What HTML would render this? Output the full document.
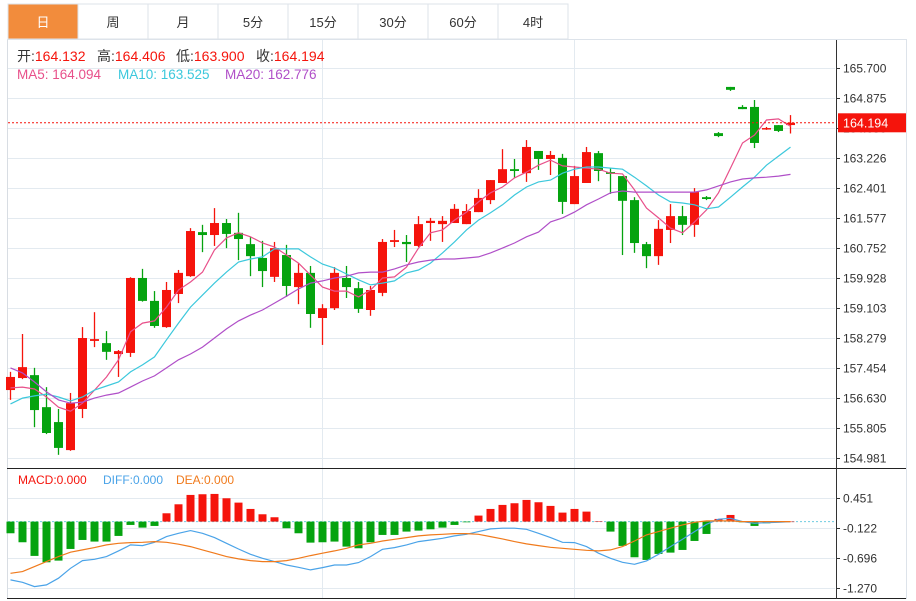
<!DOCTYPE html>
<html><head><meta charset="utf-8">
<style>
html,body{margin:0;padding:0;background:#fff;width:916px;height:601px;overflow:hidden}
svg{display:block;font-family:"Liberation Sans","Noto Sans CJK SC",sans-serif}
</style></head>
<body>
<svg id="chart" width="916" height="601" viewBox="0 0 916 601" xmlns="http://www.w3.org/2000/svg">
  <g id="tabs"></g>
  <g id="grid"></g>
  <g id="candles"></g>
  <g id="malines"></g>
  <g id="macd"></g>
  <g id="axis"></g>
  <g font-size="14">
    <text x="17" y="61" fill="#333">开:<tspan fill="#f5140c">164.132</tspan></text>
    <text x="97" y="61" fill="#333">高:<tspan fill="#f5140c">164.406</tspan></text>
    <text x="176" y="61" fill="#333">低:<tspan fill="#f5140c">163.900</tspan></text>
    <text x="256" y="61" fill="#333">收:<tspan fill="#f5140c">164.194</tspan></text>
    <text x="17" y="79" fill="#e8508a" font-size="13.5">MA5: 164.094</text>
    <text x="118" y="79" fill="#3cc8dc" font-size="13.5">MA10: 163.525</text>
    <text x="225" y="79" fill="#b04fc8" font-size="13.5">MA20: 162.776</text>
  </g>
  <g font-size="12">
    <text x="18" y="484" fill="#f5140c">MACD:0.000</text>
    <text x="103" y="484" fill="#4aa3e8">DIFF:0.000</text>
    <text x="176" y="484" fill="#f07a1c">DEA:0.000</text>
  </g>
</svg>
<script>
const tabLabels = ["日","周","月","5分","15分","30分","60分","4时"];
const priceTicks = [165.700,164.875,164.050,163.226,162.401,161.577,160.752,159.928,159.103,158.279,157.454,156.630,155.805,154.981];
const macdTicks = [0.451,-0.122,-0.696,-1.270];
const opens  = [156.85,157.18,157.26,156.38,155.97,155.20,156.33,158.20,158.14,157.84,157.87,159.93,159.30,158.58,159.49,159.98,161.19,161.11,161.44,161.17,160.86,160.48,159.96,160.56,159.68,160.07,158.83,159.10,159.93,159.65,159.05,159.52,160.92,160.92,160.81,161.44,161.41,161.44,161.41,161.74,162.07,162.54,162.92,162.81,163.42,163.20,163.23,161.96,162.54,163.36,162.84,162.73,162.07,160.86,160.53,161.25,161.63,161.39,162.15,163.91,165.18,164.63,164.63,164.02,164.13,164.132];
const closes = [157.21,157.48,156.30,155.67,155.26,156.49,158.28,158.25,157.90,157.92,159.93,159.30,158.61,159.60,160.07,161.22,161.11,161.44,161.14,161.00,160.53,160.12,160.75,159.71,160.07,158.94,159.10,160.07,159.68,159.08,159.60,160.92,160.97,160.86,161.41,161.50,161.50,161.83,161.77,162.13,162.62,162.92,162.87,163.53,163.20,163.31,162.02,162.73,163.39,162.87,162.79,162.05,160.89,160.53,161.28,161.63,161.39,162.29,162.10,163.83,165.10,164.57,163.64,164.05,163.97,164.194];
const highs  = [157.35,158.39,157.46,156.93,156.33,156.77,158.58,158.99,158.47,157.95,159.95,160.18,159.57,159.82,160.15,161.30,161.39,161.85,161.55,161.72,161.06,160.95,160.92,160.84,160.34,160.26,159.21,160.23,160.26,159.82,159.71,161.00,161.25,161.11,161.63,161.58,161.63,161.96,161.96,162.37,162.62,163.47,163.20,163.72,163.42,163.42,163.34,163.01,163.53,163.42,162.95,162.73,162.15,160.92,161.52,161.96,161.91,162.40,162.18,163.94,165.18,164.68,164.82,164.08,164.13,164.406];
const lows   = [156.58,157.15,155.83,155.64,155.07,155.18,156.08,158.03,157.68,157.21,157.76,159.28,158.56,158.56,159.24,159.96,160.64,160.81,160.75,160.42,159.98,159.68,159.82,159.41,159.21,158.56,158.09,159.05,159.38,158.97,158.89,159.43,160.78,160.37,160.78,160.95,160.92,161.44,161.41,161.74,161.96,162.54,162.68,162.57,162.90,162.76,161.69,161.96,162.54,162.59,162.24,160.56,160.62,160.20,160.29,160.89,161.11,161.06,162.07,163.80,165.07,164.57,163.50,164.00,163.94,163.900];
const ma5  = [156.91,156.93,156.88,156.66,156.38,156.27,156.49,156.85,157.21,157.68,158.45,158.69,158.75,159.13,159.60,159.82,160.09,160.70,161.03,161.17,161.06,160.89,160.78,160.56,160.34,160.01,159.68,159.57,159.57,159.41,159.60,159.93,159.96,160.23,160.75,161.17,161.25,161.52,161.74,162.02,162.27,162.43,162.68,162.84,163.03,163.17,163.01,162.98,162.95,162.92,162.81,162.79,162.35,161.85,161.58,161.30,161.17,161.47,161.80,162.27,162.95,163.64,163.86,164.27,164.30,164.094];
const ma10 = [156.47,156.63,156.69,156.74,156.66,156.55,156.66,156.85,156.96,157.07,157.35,157.54,157.76,158.23,158.69,159.13,159.46,159.79,160.09,160.37,160.45,160.51,160.73,160.73,160.73,160.51,160.31,160.20,160.04,159.88,159.74,159.79,159.85,160.07,160.15,160.34,160.62,160.92,161.25,161.52,161.72,161.94,162.21,162.43,162.57,162.62,162.81,162.92,162.98,162.98,162.95,162.92,162.70,162.46,162.21,162.02,161.99,161.94,161.83,161.88,162.15,162.43,162.70,163.03,163.28,163.525];
const ma20 = [157.46,157.32,157.07,156.80,156.58,156.49,156.52,156.63,156.71,156.77,156.93,157.10,157.24,157.46,157.68,157.84,158.03,158.28,158.53,158.75,158.91,159.05,159.24,159.43,159.63,159.79,159.85,159.93,159.98,160.07,160.09,160.09,160.18,160.29,160.37,160.42,160.45,160.45,160.48,160.51,160.62,160.75,160.89,161.06,161.19,161.47,161.58,161.74,161.94,162.10,162.27,162.32,162.29,162.29,162.29,162.29,162.29,162.29,162.35,162.46,162.57,162.65,162.68,162.70,162.73,162.776];
const macdHist = [-0.223,-0.395,-0.656,-0.778,-0.746,-0.523,-0.351,-0.382,-0.382,-0.274,-0.064,-0.115,-0.083,0.159,0.331,0.510,0.523,0.529,0.446,0.363,0.242,0.140,0.083,-0.127,-0.223,-0.402,-0.395,-0.382,-0.478,-0.510,-0.395,-0.255,-0.255,-0.191,-0.172,-0.147,-0.115,-0.064,-0.013,0.115,0.242,0.319,0.351,0.414,0.370,0.300,0.172,0.242,0.191,0.005,-0.191,-0.465,-0.682,-0.733,-0.618,-0.593,-0.542,-0.370,-0.236,0.051,0.127,-0.013,-0.083,-0.032,-0.013,0.000];
const diffLine = [-1.115,-1.160,-1.243,-1.211,-1.083,-0.892,-0.746,-0.720,-0.669,-0.561,-0.446,-0.459,-0.395,-0.287,-0.223,-0.172,-0.223,-0.306,-0.414,-0.523,-0.625,-0.701,-0.765,-0.829,-0.873,-0.924,-0.880,-0.829,-0.829,-0.784,-0.669,-0.529,-0.497,-0.446,-0.382,-0.351,-0.319,-0.274,-0.242,-0.191,-0.140,-0.127,-0.127,-0.147,-0.223,-0.306,-0.395,-0.402,-0.478,-0.605,-0.701,-0.778,-0.816,-0.752,-0.625,-0.478,-0.338,-0.191,-0.051,0.045,0.064,0.000,-0.032,-0.019,-0.013,0.000];
const deaLine = [-0.988,-0.956,-0.860,-0.765,-0.669,-0.586,-0.542,-0.497,-0.446,-0.414,-0.402,-0.395,-0.382,-0.395,-0.433,-0.478,-0.542,-0.605,-0.669,-0.714,-0.746,-0.765,-0.765,-0.746,-0.701,-0.650,-0.605,-0.561,-0.510,-0.446,-0.414,-0.370,-0.338,-0.306,-0.274,-0.255,-0.242,-0.229,-0.229,-0.242,-0.287,-0.331,-0.382,-0.427,-0.459,-0.491,-0.510,-0.529,-0.548,-0.561,-0.542,-0.478,-0.370,-0.255,-0.191,-0.127,-0.064,-0.013,0.013,0.013,0.013,0.000,0.000,0.000,0.000,0.000];
const lastPrice = 164.194;

const NS = "http://www.w3.org/2000/svg";
function mk(tag, attrs, parent){const e=document.createElementNS(NS,tag);for(const k in attrs)e.setAttribute(k,attrs[k]);parent.appendChild(e);return e;}
const xAt = i => 10.5 + i*12;
const yP = p => 68 + (165.7 - p)*36.39;
const yM = v => 521.6 - v*52.3;
const RED="#f5140c", GREEN="#05a30f";

const tabs=document.getElementById('tabs');
tabLabels.forEach((t,i)=>{
  const g=mk('g',{},tabs);
  
  
  mk('rect',{x:8+i*70,y:4,width:70,height:35,fill:i===0?'#f28c3c':'#fff',stroke:'#dde3ea','stroke-width':1},g);
  const tx=mk('text',{x:43+i*70,y:27,'text-anchor':'middle','font-size':13,fill:i===0?'#fff':'#333'},g);
  tx.textContent=t;
});

const grid=document.getElementById('grid');
mk('line',{x1:7.5,y1:39,x2:7.5,y2:599,stroke:'#d8dde3'},grid);
mk('line',{x1:7,y1:39.5,x2:906,y2:39.5,stroke:'#dde3ea'},grid);
mk('line',{x1:906.5,y1:39,x2:906.5,y2:599,stroke:'#dde3ea'},grid);
[322.5,574.5].forEach(x=>mk('line',{x1:x,y1:40,x2:x,y2:598,stroke:'#e3eaf0'},grid));
priceTicks.forEach(p=>mk('line',{x1:8,y1:Math.round(yP(p))+0.5,x2:835,y2:Math.round(yP(p))+0.5,stroke:'#e3eaf0'},grid));
macdTicks.forEach(v=>mk('line',{x1:8,y1:Math.round(yM(v))+0.5,x2:835,y2:Math.round(yM(v))+0.5,stroke:'#e3eaf0'},grid));
mk('line',{x1:7,y1:468.5,x2:906,y2:468.5,stroke:'#222'},grid);
mk('line',{x1:7,y1:598.5,x2:906,y2:598.5,stroke:'#222'},grid);

const cg=document.getElementById('candles');
opens.forEach((o,i)=>{
  const c=closes[i], up=c>=o, col=up?RED:GREEN, x=xAt(i);
  const g=mk('g',{},cg);
  
  
  mk('line',{x1:x,y1:yP(highs[i]),x2:x,y2:yP(lows[i]),stroke:col,'stroke-width':1.3},g);
  const top=yP(Math.max(o,c)), bot=yP(Math.min(o,c));
  mk('rect',{x:x-4.5,y:top,width:9,height:Math.max(1.5,bot-top),fill:col},g);
});

const mg=document.getElementById('malines');
[[ma5,'#e8508a','ma5-line'],[ma10,'#3cc8dc','ma10-line'],[ma20,'#b04fc8','ma20-line']].forEach(([arr,col,name])=>{
  const pl=mk('polyline',{points:arr.map((v,i)=>xAt(i)+','+yP(v).toFixed(1)).join(' '),fill:'none',stroke:col,'stroke-width':1.2},mg);
  
  
});

const lp=mk('line',{x1:8,y1:yP(lastPrice),x2:836,y2:yP(lastPrice),stroke:RED,'stroke-width':1,'stroke-dasharray':'2,2'},mg);



const mcg=document.getElementById('macd');
const zl=mk('line',{x1:8,y1:yM(0),x2:835,y2:yM(0),stroke:'#6fcbe0','stroke-dasharray':'2,2'},mcg);


macdHist.forEach((v,i)=>{
  const y0=yM(0), y1=yM(v);
  const r=mk('rect',{x:xAt(i)-4,y:Math.min(y0,y1),width:8,height:Math.max(0.5,Math.abs(y1-y0)),fill:v>=0?RED:GREEN},mcg);
  
  
});
[[diffLine,'#4aa3e8','diff-line'],[deaLine,'#f07a1c','dea-line']].forEach(([arr,col,name])=>{
  const pl=mk('polyline',{points:arr.map((v,i)=>xAt(i)+','+yM(v).toFixed(1)).join(' '),fill:'none',stroke:col,'stroke-width':1.2},mcg);
  
  
});

const ax=document.getElementById('axis');
mk('line',{x1:836.5,y1:40,x2:836.5,y2:599,stroke:'#333'},ax);
priceTicks.forEach(p=>{
  const y=Math.round(yP(p))+0.5;
  mk('line',{x1:836,y1:y,x2:840,y2:y,stroke:'#333'},ax);
  const t=mk('text',{x:843,y:y+4,'font-size':12,fill:'#333'},ax);
  
  
  t.textContent=p.toFixed(3);
});
macdTicks.forEach(v=>{
  const y=Math.round(yM(v))+0.5;
  mk('line',{x1:836,y1:y,x2:840,y2:y,stroke:'#333'},ax);
  const t=mk('text',{x:843,y:y+4,'font-size':12,fill:'#333'},ax);
  
  
  t.textContent=v.toFixed(3);
});
const lbg=mk('g',{},ax);


mk('rect',{x:838,y:yP(lastPrice)-9.5,width:68,height:19,fill:RED},lbg);
const lt=mk('text',{x:843,y:yP(lastPrice)+4.5,'font-size':12.5,fill:'#fff'},lbg);
lt.textContent=lastPrice.toFixed(3);
</script>
</body></html>
